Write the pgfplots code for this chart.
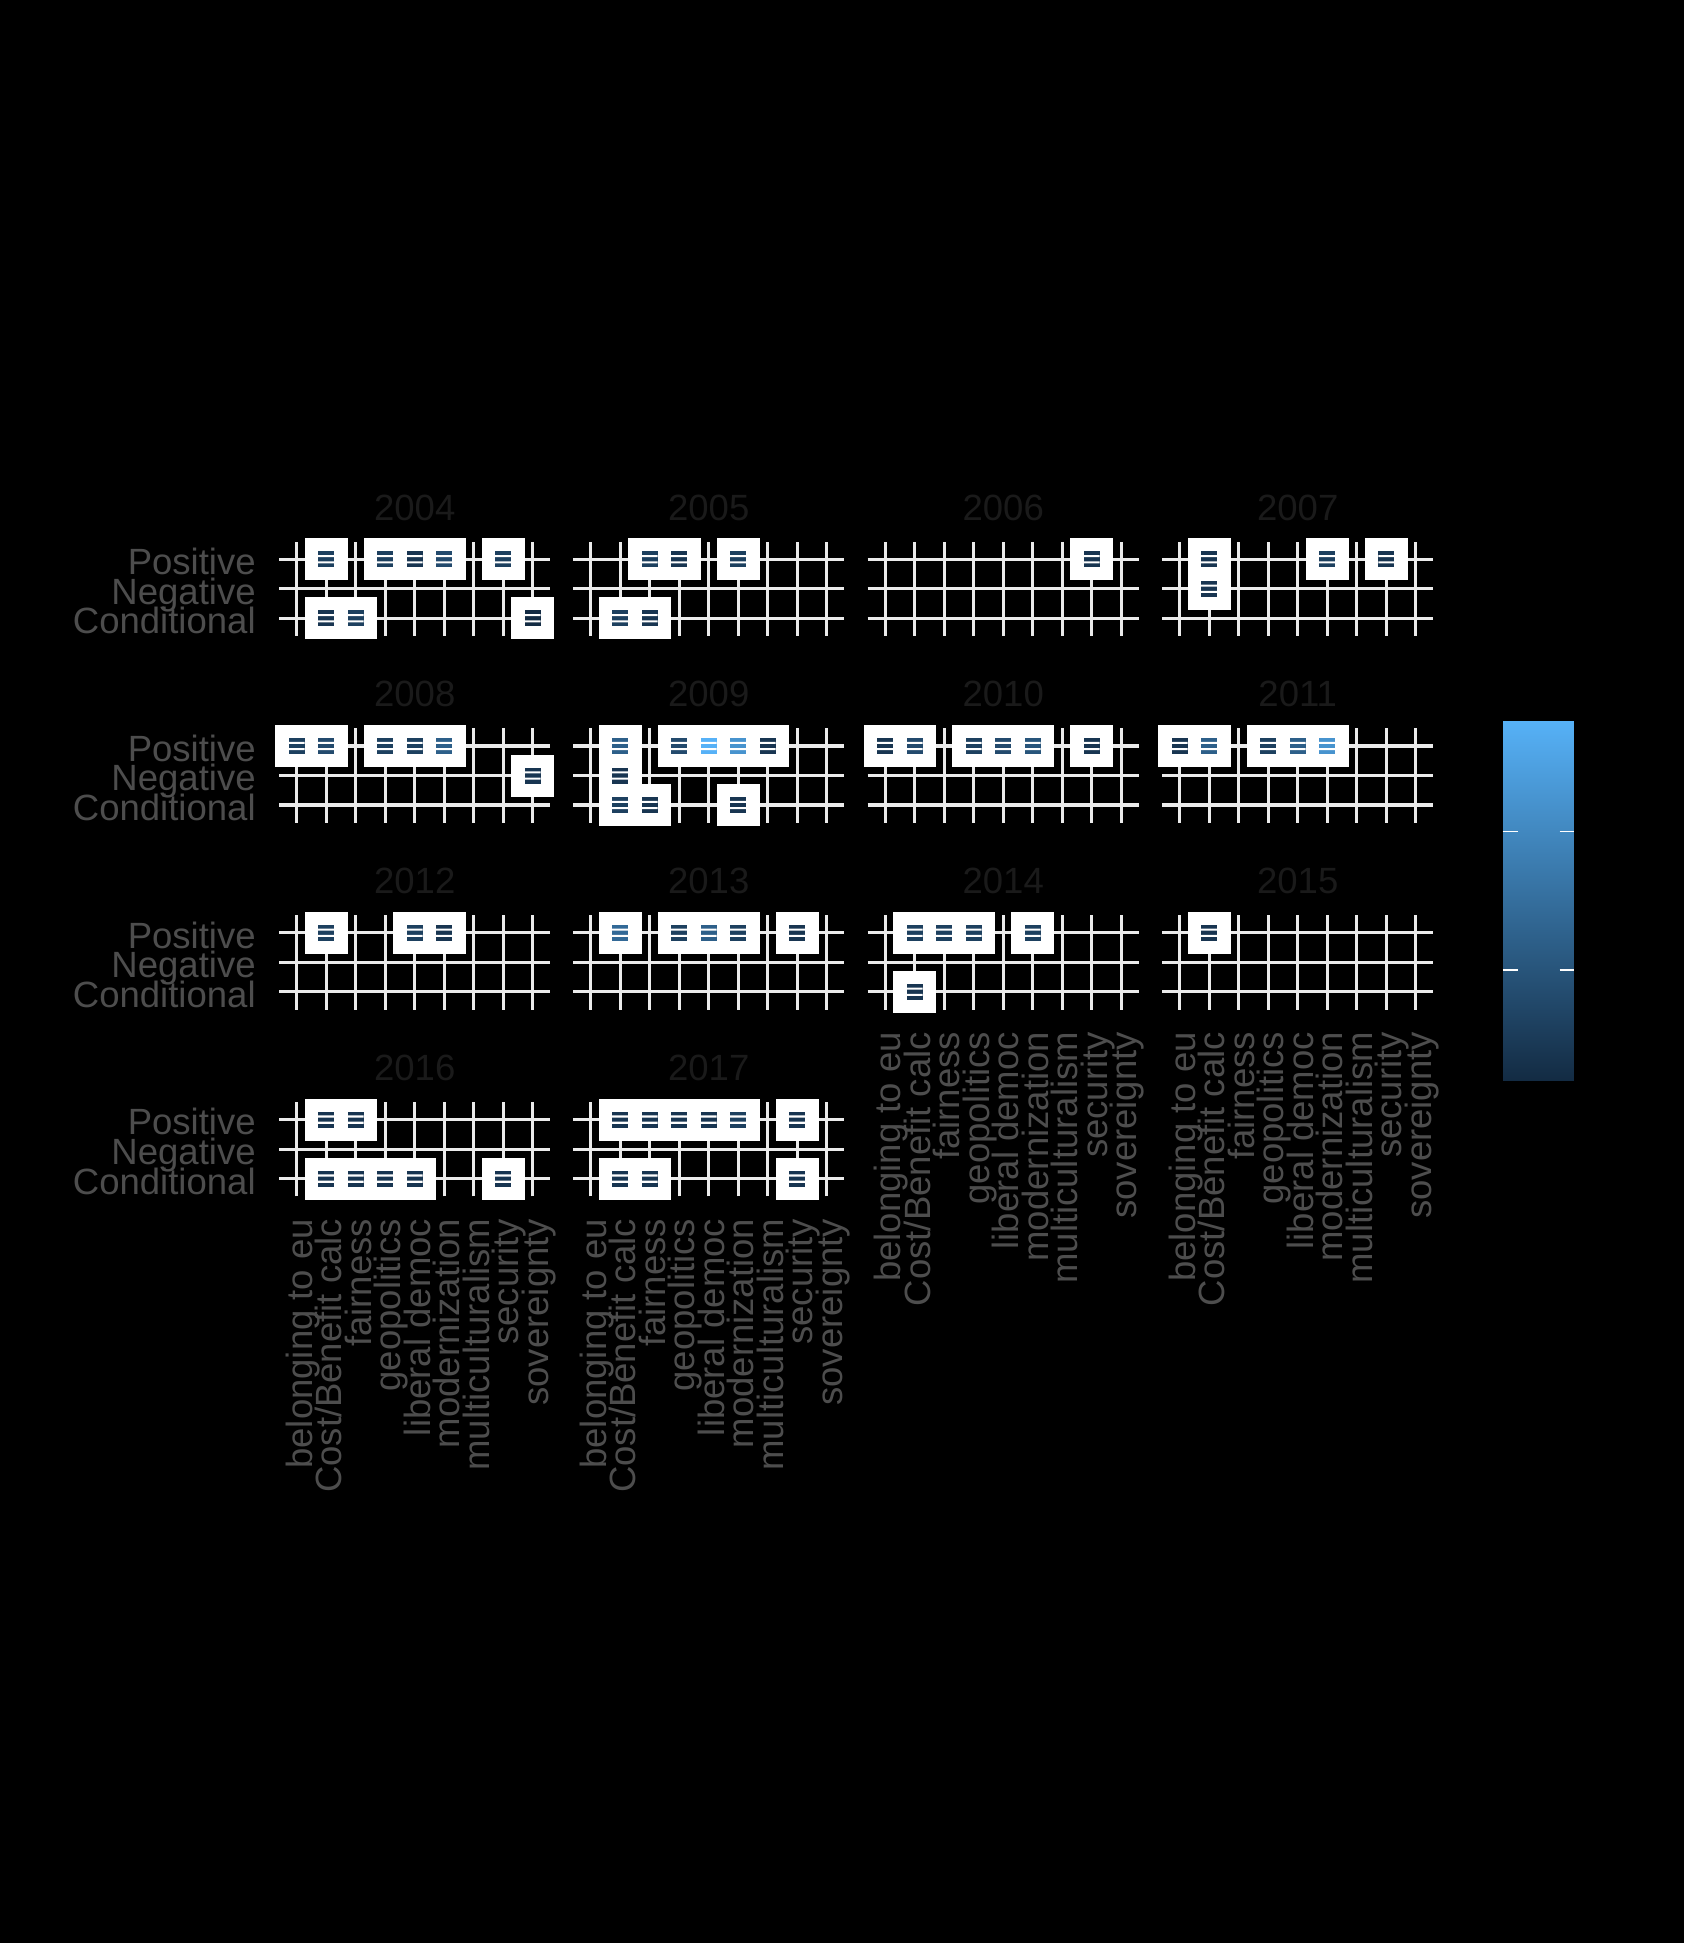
\documentclass[border=0pt]{standalone}
\usepackage{pgfplots}
\pgfplotsset{compat=1.18}
\usepackage{pgfplotstable}
\usepackage{fontspec}
\setmainfont{Liberation Sans}
\definecolor{stripc}{HTML}{1A1A1A}
\definecolor{axc}{HTML}{4D4D4D}
\definecolor{gridc}{HTML}{EBEBEB}
\newcommand\axfont{\fontsize{8.8}{10}\selectfont}
\pgfdeclareplotmark{wbox}{\pgfpathrectangle{\pgfpoint{-5.16bp}{-5.04bp}}{\pgfpoint{10.32bp}{10.08bp}}\pgfusepathqfill}
\pgfdeclareplotmark{csq}{\pgfpathrectangle{\pgfpoint{-1.92bp}{-1.92bp}}{\pgfpoint{3.84bp}{3.84bp}}\pgfusepathqfill}
\pgfdeclareplotmark{gaps}{\pgfpathrectangle{\pgfpoint{-1.92bp}{0.5bp}}{\pgfpoint{3.84bp}{0.5bp}}\pgfpathrectangle{\pgfpoint{-1.92bp}{-1.0bp}}{\pgfpoint{3.84bp}{0.5bp}}\pgfusepathqfill}
\pgfplotsset{
  colormap={gg}{rgb255(0)=(19,43,67) rgb255(1)=(86,177,247)},
  panel/.style={
    width=65.14bp, height=22.66bp, scale only axis,
    anchor=north west,
    xmin=0.4, xmax=9.6, ymin=0.4, ymax=3.6,
    xtick={1,...,9}, ytick={1,2,3},
    xticklabels={}, yticklabels={},
    axis line style={draw=none}, tick style={draw=none}, major tick length=0pt,
    xmajorgrids, ymajorgrids,
    major grid style={draw=gridc, line width=0.77bp},
    every axis title shift=0pt,
    title style={at={(0.5,1)}, anchor=base, yshift=5.16bp, inner sep=0pt, font=\axfont, text=stripc},
    tick label style={font=\axfont, text=axc, inner sep=0pt, text height=0.74em, text depth=0pt},
    xticklabel style={rotate=90, anchor=east},
    yticklabel style={anchor=east},
    xticklabel shift=5.2bp, yticklabel shift=5.4bp,
    colormap name=gg, point meta min=1, point meta max=14,
  },
  xlab/.style={xticklabels={belonging to eu,Cost/Benefit calc,fairness,geopolitics,liberal democ,modernization,multiculturalism,security,sovereignty}},
  ylab/.style={yticklabels={Conditional,Negative,Positive}},
}
\newcommand\panel[5]{%
\begin{axis}[panel, at={(#1,#2)}, title={#3}, #5]
\addplot[only marks, mark=wbox, mark options={draw=none, fill=white}] table[x=x,y=y] {#4};
\addplot[scatter, only marks, mark=csq, point meta=\thisrow{v}, scatter/use mapped color={draw=none, fill=mapped color}] table[x=x,y=y] {#4};
\addplot[only marks, mark=gaps, mark options={draw=none, fill=white}] table[x=x,y=y] {#4};
\end{axis}}
\pgfplotstableread{
x y v
2 3 3
4 3 3
5 3 2
6 3 4
8 3 3
2 1 2
3 1 3
9 1 1
}\dataA
\pgfplotstableread{
x y v
3 3 3
4 3 2
6 3 3
2 1 3
3 1 2
}\dataB
\pgfplotstableread{
x y v
8 3 2
}\dataC
\pgfplotstableread{
x y v
2 3 2
6 3 3
8 3 2
2 2 2
}\dataD
\pgfplotstableread{
x y v
1 3 3
2 3 4
4 3 3
5 3 3
6 3 6
9 2 2
}\dataE
\pgfplotstableread{
x y v
2 3 6
4 3 4
5 3 14
6 3 11
7 3 2
2 2 2
2 1 3
3 1 2
6 1 2
}\dataF
\pgfplotstableread{
x y v
1 3 2
2 3 4
4 3 3
5 3 4
6 3 5
8 3 2
}\dataG
\pgfplotstableread{
x y v
1 3 2
2 3 6
4 3 3
5 3 6
6 3 11
}\dataH
\pgfplotstableread{
x y v
2 3 3
5 3 3
6 3 2
}\dataI
\pgfplotstableread{
x y v
2 3 7
4 3 3
5 3 6
6 3 3
8 3 2
}\dataJ
\pgfplotstableread{
x y v
2 3 3
3 3 3
4 3 3
6 3 3
2 1 2
}\dataK
\pgfplotstableread{
x y v
2 3 2
}\dataL
\pgfplotstableread{
x y v
2 3 2
3 3 2
2 1 2
3 1 2
4 1 2
5 1 2
8 1 2
}\dataM
\pgfplotstableread{
x y v
2 3 2
3 3 2
4 3 2
5 3 2
6 3 3
8 3 2
2 1 2
3 1 2
8 1 2
}\dataN
\begin{document}
\begin{tikzpicture}
\fill[black] (0,0) rectangle (404.16bp,-466.32bp);
\useasboundingbox (0,0) rectangle (404.16bp,-466.32bp);
\panel{66.96bp}{-129.96bp}{2004}{\dataA}{ylab}
\panel{137.52bp}{-129.96bp}{2005}{\dataB}{}
\panel{208.2bp}{-129.96bp}{2006}{\dataC}{}
\panel{278.88bp}{-129.96bp}{2007}{\dataD}{}
\panel{66.96bp}{-174.79bp}{2008}{\dataE}{ylab}
\panel{137.52bp}{-174.79bp}{2009}{\dataF}{}
\panel{208.2bp}{-174.79bp}{2010}{\dataG}{}
\panel{278.88bp}{-174.79bp}{2011}{\dataH}{}
\panel{66.96bp}{-219.62bp}{2012}{\dataI}{ylab}
\panel{137.52bp}{-219.62bp}{2013}{\dataJ}{}
\panel{208.2bp}{-219.62bp}{2014}{\dataK}{xlab}
\panel{278.88bp}{-219.62bp}{2015}{\dataL}{xlab}
\panel{66.96bp}{-264.46bp}{2016}{\dataM}{ylab,xlab}
\panel{137.52bp}{-264.46bp}{2017}{\dataN}{xlab}
\begin{axis}[at={(360.65bp,-259.37bp)}, anchor=south west, width=17.28bp, height=86.4bp, scale only axis, hide axis, xmin=0, xmax=1, ymin=1, ymax=14, view={0}{90}, colormap name=gg, point meta min=1, point meta max=14, clip=true]
\addplot3[surf, shader=interp, point meta=y] table {
x y z
0 1 0
1 1 0

0 14 0
1 14 0
};
\addplot[white, line width=0.3bp] coordinates {(0,5) (0.21,5)};
\addplot[white, line width=0.3bp] coordinates {(0.79,5) (1,5)};
\addplot[white, line width=0.3bp] coordinates {(0,10) (0.21,10)};
\addplot[white, line width=0.3bp] coordinates {(0.79,10) (1,10)};
\end{axis}
\end{tikzpicture}
\end{document}
